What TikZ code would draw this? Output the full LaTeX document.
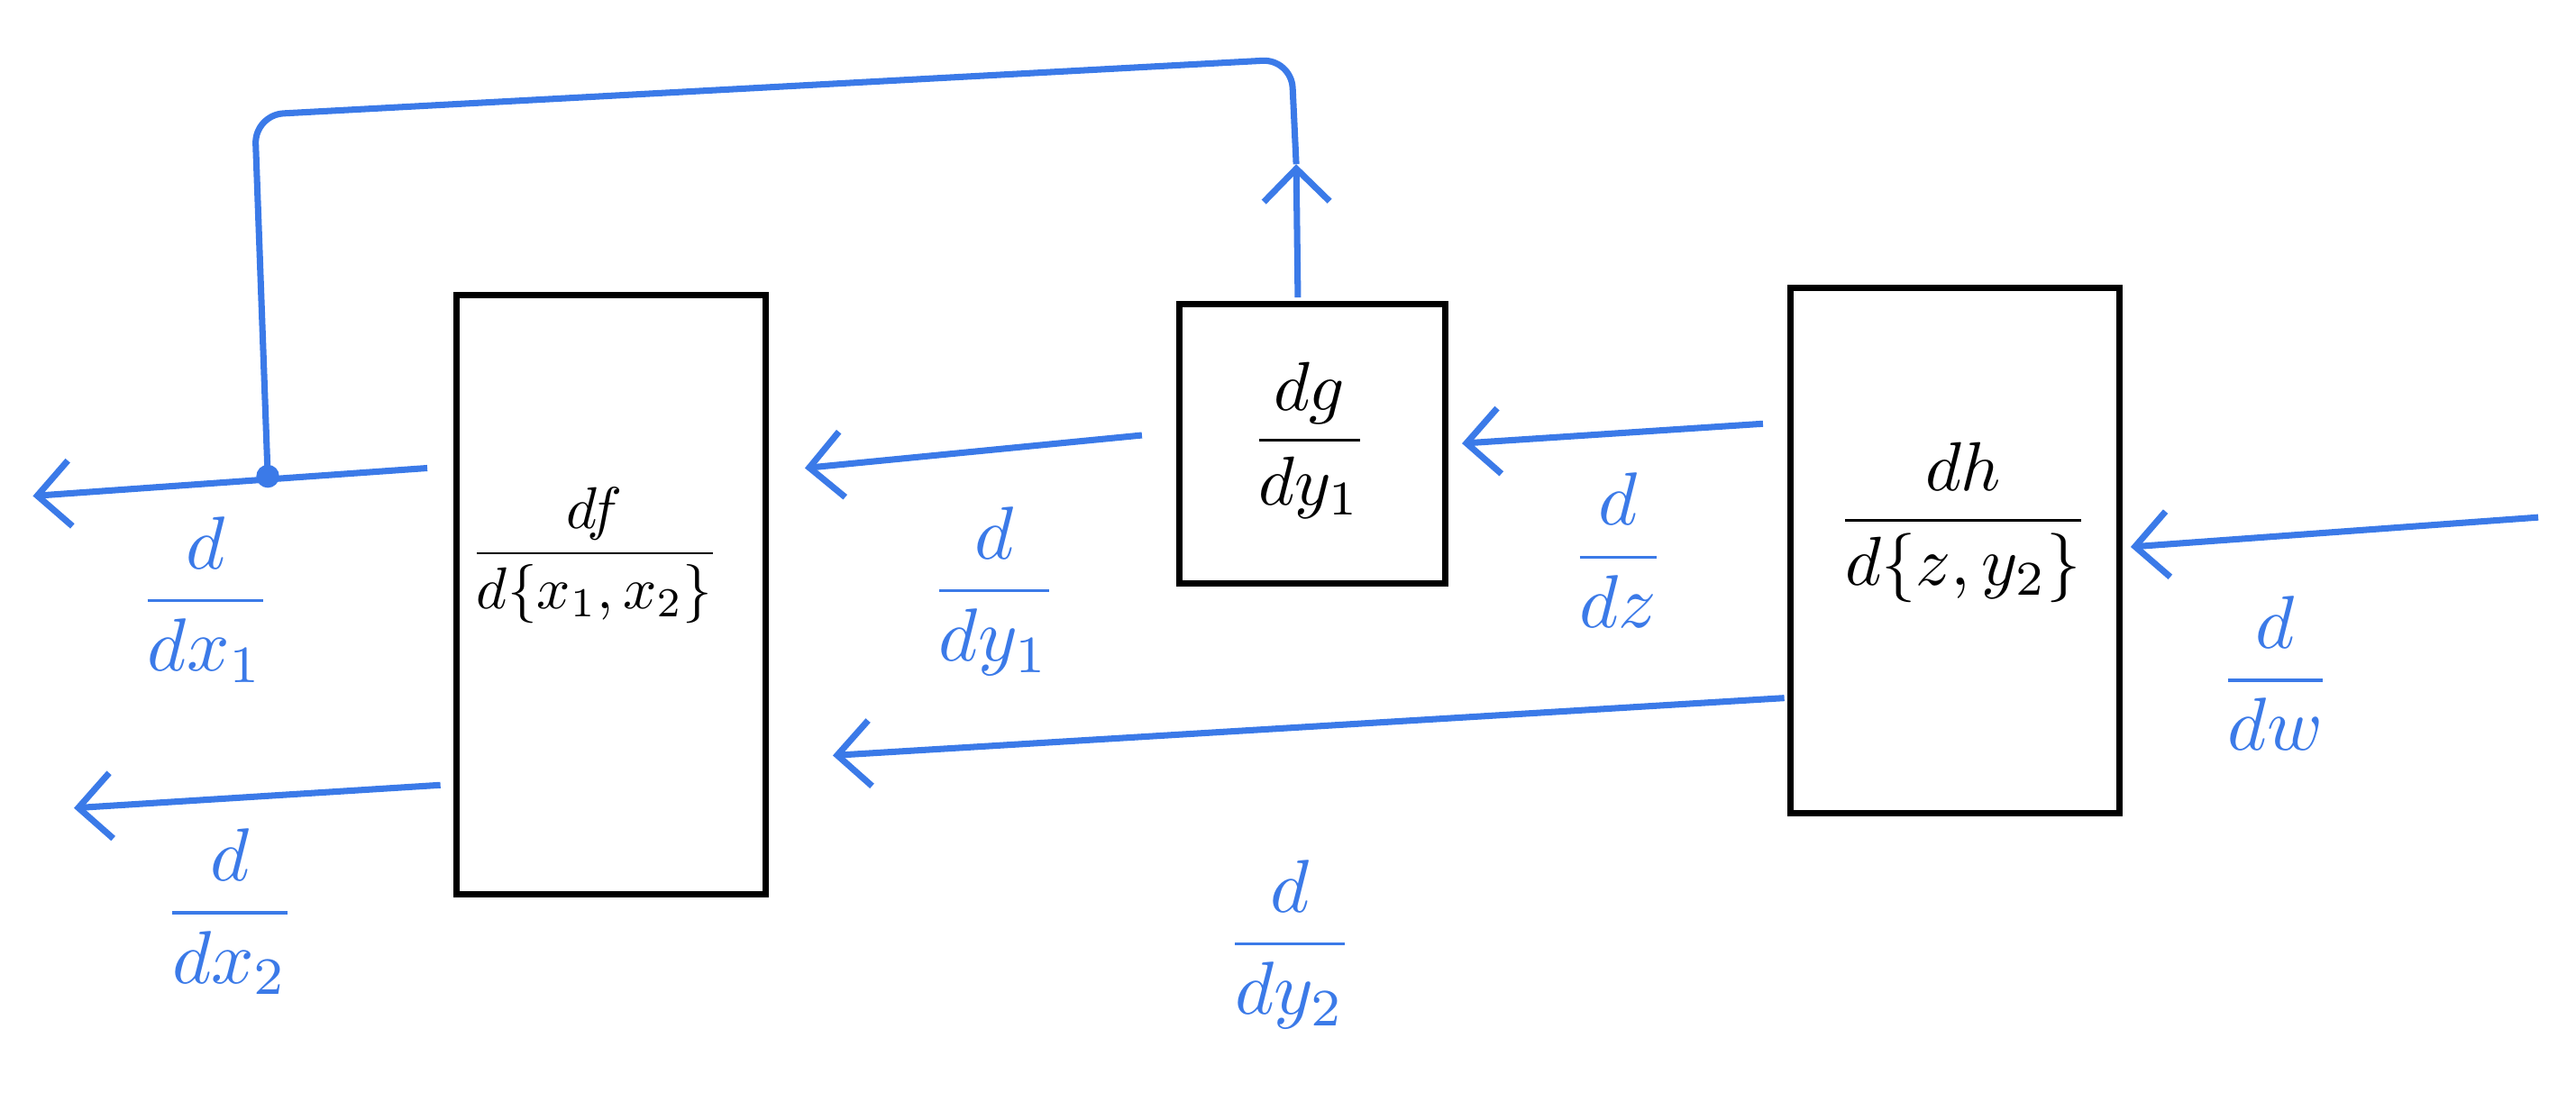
\documentclass[tikz,border=0pt]{standalone}
\usepackage{amsmath}
\usetikzlibrary{arrows.meta,calc}
\definecolor{pen}{RGB}{59,122,232}
\begin{document}
\begin{tikzpicture}[x=0.02cm,y=-0.02cm,
  boxnode/.style={draw=black,line width=2.2pt,inner sep=0pt},
  grad/.style={draw=pen,line width=2.2pt,-{Straight Barb[length=4mm,width=8mm]}},
  wire/.style={draw=pen,line width=2.2pt,rounded corners=10pt},
  lbl/.style={text=pen,scale=2.6},
  boxtext/.style={text=black,scale=2.4}]
\useasboundingbox (0,0) rectangle (1568,676);
% boxes
\node[boxnode,minimum width=3.76cm,minimum height=7.3cm] (fbox) at (372,362) {};
\node[boxnode,minimum width=3.24cm,minimum height=3.4cm] (gbox) at (799,270) {};
\node[boxnode,minimum width=4cm,minimum height=6.4cm] (hbox) at (1190,335) {};
% box contents
\node[boxtext,scale=0.85] (ftext) at (362,338) {$\dfrac{df}{d\{x_1,x_2\}}$};
\node[boxtext] (gtext) at (797,268) {$\dfrac{dg}{dy_1}$};
\node[boxtext] (htext) at (1195,318) {$\dfrac{dh}{d\{z,y_2\}}$};
% free ends
\coordinate (wstart) at (1545,315);
\coordinate (x1end) at (20,302);
\coordinate (x2end) at (45,492);
\coordinate (dot) at (163,290);
\coordinate (loopmid) at (789,100);
% gradient arrows
\draw[grad] (wstart) -- ($(hbox.east)+(5,-2)$);
\draw[grad] ($(hbox.west)+(-15,-77)$) -- ($(gbox.east)+(8,0)$);
\draw[grad] ($(hbox.west)+(-2,90)$) -- ($(fbox.east)+(39,98)$);
\draw[grad] ($(gbox.west)+(-21,-5)$) -- ($(fbox.east)+(22,-77)$);
\draw[grad] ($(fbox.west)+(-16,-77)$) -- (x1end);
\draw[grad] ($(fbox.west)+(-8,116)$) -- (x2end);
% feedback loop
\draw[grad] ($(gbox.north)+(-9,-2)$) -- (loopmid);
\draw[wire] (loopmid) -- (786,36) -- (155,70) -- (dot);
\fill[pen] (dot) circle (0.14cm);
% labels
\node[lbl] (ldx1) at (125,365) {$\dfrac{d}{dx_1}$};
\node[lbl] (ldx2) at (140,555) {$\dfrac{d}{dx_2}$};
\node[lbl] (ldy1) at (605,360) {$\dfrac{d}{dy_1}$};
\node[lbl] (ldz) at (985,335) {$\dfrac{d}{dz}$};
\node[lbl] (ldw) at (1385,410) {$\dfrac{d}{dw}$};
\node[lbl] (ldy2) at (785,575) {$\dfrac{d}{dy_2}$};
\end{tikzpicture}
\end{document}
